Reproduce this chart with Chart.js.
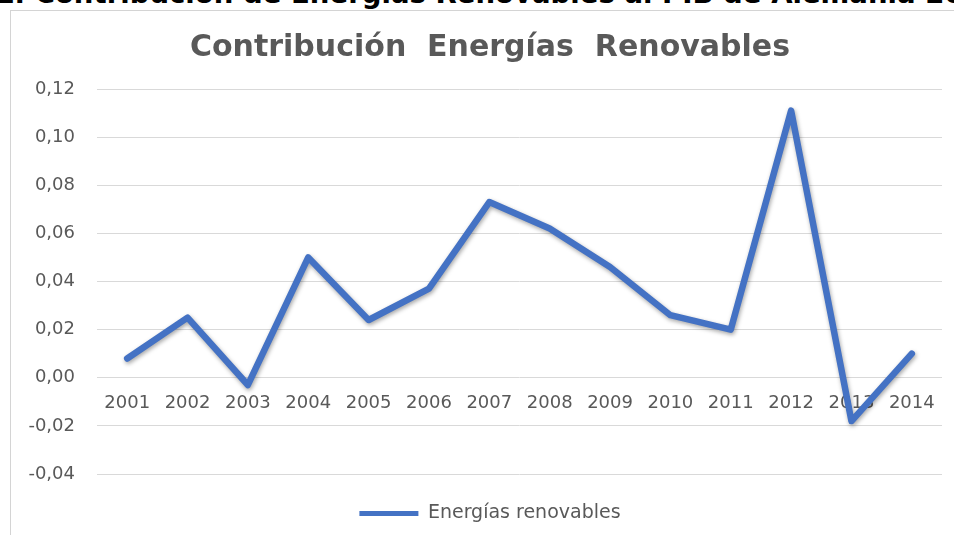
<!DOCTYPE html>
<html>
<head>
<meta charset="utf-8">
<script src="https://cdn.jsdelivr.net/npm/chart.js@4/dist/chart.umd.min.js"></script>
<style>
  html, body { margin: 0; padding: 0; background: #fff; overflow: hidden; width: 954px; height: 535px; }
  #head { position: absolute; white-space: nowrap; font-family: "DejaVu Sans", sans-serif; font-weight: bold; color: #000; line-height: 1; }
  #frame { position: absolute; left: 10px; top: 10px; width: 960px; height: 525px; border-left: 1px solid #d4d4d4; border-top: 1px solid #d4d4d4; box-sizing: border-box; }
  #wrap { position: absolute; left: 10px; top: 10px; width: 960px; height: 525px; }
</style>
</head>
<body>
<div id="head"><span id="pre"></span><span id="main"></span></div>
<div id="frame"></div>
<div id="wrap"><canvas id="c" width="960" height="525"></canvas></div>
<script>
const headerPrefix = "Figura 1. ";
const headerMain = "Contribución de Energías Renovables al PIB de Alemania 2001-2014";
const chartTitle = "Contribución  Energías  Renovables";
const seriesName = "Energías renovables";
const years = ["2001","2002","2003","2004","2005","2006","2007","2008","2009","2010","2011","2012","2013","2014"];
const renewables = [0.008, 0.025, -0.003, 0.050, 0.024, 0.037, 0.073, 0.062, 0.046, 0.026, 0.020, 0.111, -0.018, 0.010];
const yMin = -0.04, yMax = 0.12, yStep = 0.02;

// header sizing / placement
(function () {
  const mc = document.createElement('canvas').getContext('2d');
  mc.font = 'bold 100px "DejaVu Sans"';
  const w100 = mc.measureText("Contribución de Energías Renovables al PIB de Alemania 2").width;
  const size = 100 * 910 / w100;
  const head = document.getElementById('head');
  document.getElementById('pre').textContent = headerPrefix;
  document.getElementById('main').textContent = headerMain;
  head.style.fontSize = size + 'px';
  const pre = document.getElementById('pre');
  head.style.left = (35 - pre.offsetWidth) + 'px';
  head.style.top = (6 - size * 0.93) + 'px';
})();

const shadowPlugin = {
  id: 'lineShadow',
  beforeDatasetDraw(chart) {
    const c = chart.ctx; c.save();
    c.shadowColor = 'rgba(0,0,0,0.35)';
    c.shadowBlur = 4; c.shadowOffsetX = 1; c.shadowOffsetY = 2;
  },
  afterDatasetDraw(chart) { chart.ctx.restore(); }
};

const blue = '#4472C4';
const textGray = '#595959';
new Chart(document.getElementById('c'), {
  type: 'line',
  data: {
    labels: years,
    datasets: [{
      label: seriesName,
      data: renewables,
      borderColor: blue,
      backgroundColor: blue,
      borderWidth: 6.5,
      pointRadius: 0,
      pointHoverRadius: 0,
      tension: 0,
      borderCapStyle: 'round',
      borderJoinStyle: 'round',
      yAxisID: 'y'
    }]
  },
  plugins: [shadowPlugin],
  options: {
    responsive: false,
    animation: false,
    devicePixelRatio: 1,
    layout: { padding: { left: 0, right: 0, top: 0, bottom: 2 } },
    plugins: {
      title: {
        display: true,
        text: chartTitle,
        color: textGray,
        font: { family: 'DejaVu Sans', weight: 'bold', size: 30 },
        padding: { top: 20, bottom: 23 }
      },
      legend: {
        display: true,
        position: 'bottom',
        labels: {
          color: textGray,
          font: { family: 'DejaVu Sans', size: 19 },
          boxWidth: 59,
          boxHeight: 5,
          padding: 30,
          generateLabels(chart) {
            return [{ text: seriesName, fillStyle: blue, strokeStyle: blue, lineWidth: 0, fontColor: textGray, datasetIndex: 0 }];
          }
        }
      },
      tooltip: { enabled: false }
    },
    scales: {
      x: {
        position: { y: 0 },
        offset: true,
        grid: { display: false, drawTicks: false },
        border: { display: false },
        ticks: { color: textGray, font: { family: 'DejaVu Sans', size: 18 }, padding: 15, autoSkip: false, maxRotation: 0 }
      },
      y: {
        min: yMin, max: yMax,
        grid: { color: '#d9d9d9', lineWidth: 1, drawTicks: false },
        border: { display: false },
        afterFit(scale) { scale.width = 87; },
        ticks: {
          stepSize: yStep,
          padding: 22,
          color: textGray,
          font: { family: 'DejaVu Sans', size: 18 },
          callback(v) { if (Math.abs(v) < 1e-9) v = 0; return v.toFixed(2).replace('.', ','); }
        }
      },
      yRightSpace: {
        position: 'right',
        display: true,
        grid: { display: false, drawTicks: false },
        border: { display: false },
        ticks: { display: false },
        afterFit(scale) { scale.width = 28; }
      }
    }
  }
});
</script>
</body>
</html>
